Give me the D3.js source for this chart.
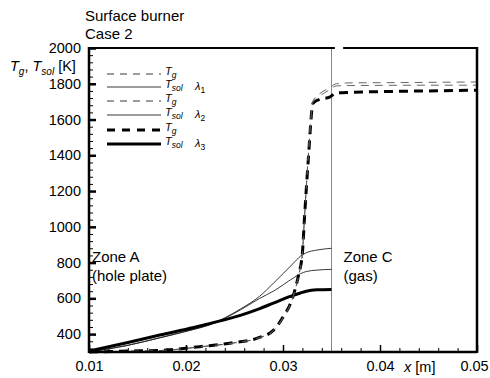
<!DOCTYPE html>
<html>
<head>
<meta charset="utf-8">
<script src="https://cdn.jsdelivr.net/npm/d3@7"></script>
<style>
body { margin: 0; background: #fff; }
text { font-family: "Liberation Sans", Arial, sans-serif; fill: #000; }
</style>
</head>
<body>
<div id="chart"></div>
<script>
// gas temperature T_g along x (zone A + zone C)
const xGas = [0.010, 0.014, 0.018, 0.0214, 0.0249, 0.0275, 0.029, 0.030, 0.0309, 0.0316, 0.0320, 0.0322, 0.0326, 0.0331, 0.0338, 0.0348, 0.0355, 0.037, 0.040, 0.045, 0.050];
const tg1 = [300, 304, 310, 328, 350, 378, 418, 490, 585, 725, 850, 1040, 1390, 1705, 1745, 1778, 1800, 1805, 1806, 1808, 1810];
const tg2 = [300, 304, 310, 329, 351, 379, 420, 492, 588, 728, 852, 1038, 1385, 1698, 1732, 1766, 1788, 1790, 1791, 1792, 1792];
const tg3 = [300, 305, 311, 330, 352, 380, 421, 495, 590, 730, 853, 1037, 1370, 1691, 1713, 1725, 1749, 1752, 1756, 1760, 1764];

// solid temperature T_sol, only inside the hole plate
const xSolid = [0.010, 0.0139, 0.0173, 0.0208, 0.0225, 0.0256, 0.0276, 0.029, 0.0311, 0.0318, 0.0324, 0.0335, 0.035];
const ts1 = [300, 336, 380, 428, 455, 540, 612, 684, 798, 836, 855, 870, 880];
const ts2 = [300, 336, 379, 426, 452, 535, 600, 640, 715, 738, 750, 758, 762];
const ts3 = [305, 352, 395, 437, 460, 505, 543, 573, 618, 630, 640, 648, 650];

const xTicks = [0.01, 0.02, 0.03, 0.04, 0.05];
const yTicks = [400, 600, 800, 1000, 1200, 1400, 1600, 1800, 2000];
const plateEnd = 0.035;

const margin = {top: 48, right: 13, bottom: 26, left: 89},
    width = 490 - margin.left - margin.right,
    height = 378 - margin.top - margin.bottom;

let svg = d3.select("#chart")
    .append("svg")
    .attr("width", 490)
    .attr("height", 378);

let group = svg.append("g")
    .attr("transform", "translate(" + margin.left + "," + margin.top + ")");

const x = d3.scaleLinear().domain([0.01, 0.05]).range([0, width]);
const y = d3.scaleLinear().domain([300, 2000]).range([height, 0]);

// minor ticks
const xMinor = d3.range(0.012, 0.05, 0.002).filter(v => xTicks.every(t => Math.abs(t - v) > 1e-6));
const yMinor = d3.range(320, 2000, 40).filter(v => v % 200 !== 0);

group.append("g")
    .attr("transform", `translate(0,${height})`)
    .call(d3.axisBottom(x).tickValues(xMinor).tickSize(-4).tickFormat(""))
    .call(g => g.select(".domain").remove());
group.append("g")
    .call(d3.axisLeft(y).tickValues(yMinor).tickSize(-4).tickFormat(""))
    .call(g => g.select(".domain").remove());

let xAxis = group.append("g")
    .attr("transform", `translate(0,${height})`)
    .call(d3.axisBottom(x).tickValues(xTicks).tickSize(-7).tickPadding(9).tickFormat(d3.format(".2f")));
xAxis.select(".domain").remove();
xAxis.selectAll(".tick line").attr("stroke-width", 1.5);
xAxis.selectAll("text").attr("font-size", 14.5)
    .attr("dx", d => d === 0.05 ? -3 : 0);

let yAxis = group.append("g")
    .call(d3.axisLeft(y).tickValues(yTicks).tickSize(-7).tickPadding(8).tickFormat(d3.format("d")));
yAxis.select(".domain").remove();
yAxis.selectAll(".tick line").attr("stroke-width", 2.5);
yAxis.selectAll("text").attr("font-size", 14.5);

// plate / gas boundary
group.append("line")
    .attr("x1", x(plateEnd)).attr("x2", x(plateEnd))
    .attr("y1", 0).attr("y2", height)
    .attr("stroke", "#888").attr("stroke-width", 1);

// curves
const line = d3.line().curve(d3.curveMonotoneX);
function curve(xs, ys, w, dash, color) {
    group.append("path")
        .attr("d", line(xs.map((v, i) => [x(v), y(ys[i])])))
        .attr("fill", "none")
        .attr("stroke", color)
        .attr("stroke-width", w)
        .attr("stroke-dasharray", dash);
}
curve(xSolid, ts1, 0.9, null, "#222");
curve(xSolid, ts2, 0.9, null, "#222");
curve(xSolid, ts3, 3, null, "#000");
curve(xGas, tg3, 3, "9,6", "#000");
curve(xGas, tg1, 0.9, "8,6", "#555");
curve(xGas, tg2, 0.9, "8,6", "#555");

// frame
const frame = group.append("g").attr("stroke", "#000").attr("fill", "none");
frame.append("line").attr("x1", 0).attr("x2", 0).attr("y1", -1).attr("y2", height + 1).attr("stroke-width", 2.5);
frame.append("line").attr("x1", 0).attr("x2", width).attr("y1", height).attr("y2", height).attr("stroke-width", 2.5);
frame.append("line").attr("x1", width).attr("x2", width).attr("y1", -1).attr("y2", height + 1).attr("stroke-width", 2.5);
frame.append("line").attr("x1", 0).attr("x2", x(0.03535)).attr("y1", 0).attr("y2", 0).attr("stroke-width", 1.8);
frame.append("line").attr("x1", x(0.0362)).attr("x2", width).attr("y1", 0).attr("y2", 0).attr("stroke-width", 1.8);

// titles
svg.append("text").attr("x", 85).attr("y", 21).attr("font-size", 15).text("Surface burner");
svg.append("text").attr("x", 85).attr("y", 39).attr("font-size", 15).text("Case 2");

let yLabel = svg.append("text").attr("x", 10).attr("y", 71).attr("font-size", 14.5);
yLabel.append("tspan").attr("font-style", "italic").text("T");
yLabel.append("tspan").attr("font-style", "italic").attr("font-size", 10).attr("dy", 4).text("g");
yLabel.append("tspan").attr("dy", -4).text(",  ");
yLabel.append("tspan").attr("font-style", "italic").text("T");
yLabel.append("tspan").attr("font-style", "italic").attr("font-size", 10).attr("dy", 4).text("sol");
yLabel.append("tspan").attr("dy", -4).text(" [K]");

let xLabel = svg.append("text").attr("x", 404).attr("y", 372).attr("font-size", 14.5);
xLabel.append("tspan").attr("font-style", "italic").text("x");
xLabel.append("tspan").text(" [m]");

// zone labels
group.append("text").attr("x", 3).attr("y", 214).attr("font-size", 15).text("Zone A");
group.append("text").attr("x", 3).attr("y", 233).attr("font-size", 15).text("(hole plate)");
group.append("text").attr("x", x(plateEnd) + 12).attr("y", 214).attr("font-size", 15).text("Zone C");
group.append("text").attr("x", x(plateEnd) + 12).attr("y", 233).attr("font-size", 15).text("(gas)");

// legend
const legendRows = [
    {sub: "g", w: 0.9, dash: "7,6", color: "#222"},
    {sub: "sol", w: 0.9, dash: null, color: "#222", lam: "1"},
    {sub: "g", w: 0.9, dash: "7,6", color: "#222"},
    {sub: "sol", w: 0.9, dash: null, color: "#222", lam: "2"},
    {sub: "g", w: 3, dash: "8,7", color: "#000"},
    {sub: "sol", w: 3, dash: null, color: "#000", lam: "3"}
];
const legendY = [74, 87, 101, 115, 130, 144];
let legend = svg.append("g");
legendRows.forEach((r, i) => {
    const ly = legendY[i];
    legend.append("line")
        .attr("x1", 107).attr("x2", 161)
        .attr("y1", ly).attr("y2", ly)
        .attr("stroke", r.color).attr("stroke-width", r.w)
        .attr("stroke-dasharray", r.dash);
    let t = legend.append("text").attr("x", 165).attr("y", ly + 1).attr("font-size", 11).attr("font-style", "italic");
    t.append("tspan").text("T");
    t.append("tspan").attr("font-size", 8.5).attr("dy", 3).text(r.sub);
    if (r.lam) {
        let l = legend.append("text").attr("x", 195).attr("y", ly + 3).attr("font-size", 11).attr("font-style", "italic");
        l.append("tspan").text("λ");
        l.append("tspan").attr("font-size", 8.5).attr("font-style", "normal").attr("dy", 3).text(r.lam);
    }
});
</script>
</body>
</html>
